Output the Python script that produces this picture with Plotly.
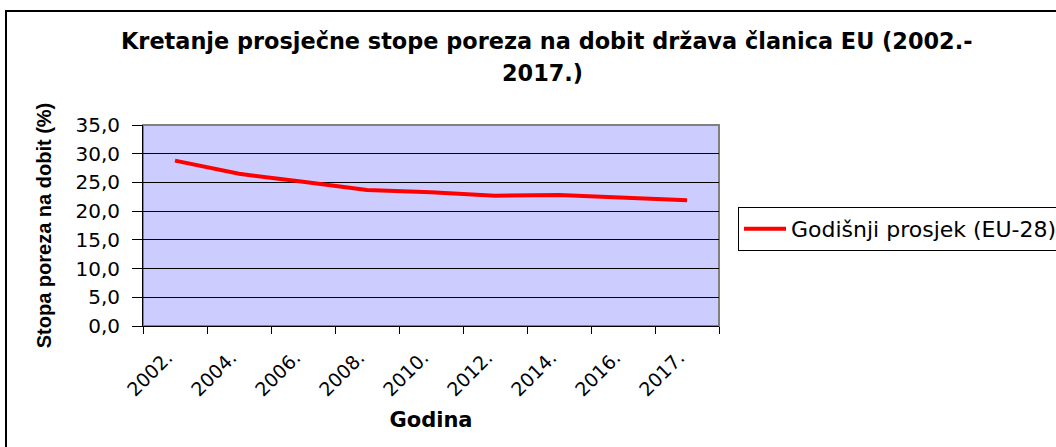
import plotly.graph_objects as go

years = ["2002.", "2004.", "2006.", "2008.", "2010.", "2012.", "2014.", "2016.", "2017."]
rate = [28.8, 26.5, 25.1, 23.7, 23.3, 22.7, 22.8, 22.3, 21.9]
series_name = "Godišnji prosjek (EU-28)"
title_line1 = "Kretanje prosječne stope poreza na dobit država članica EU (2002.-"
title_line2 = "2017.)"
y_title = "Stopa poreza na dobit (%)"
x_title = "Godina"

FONT = "DejaVu Sans, Liberation Sans, sans-serif"
FONT_ARIAL = "Liberation Sans, Arial, sans-serif"

fig = go.Figure()
fig.add_trace(go.Scatter(
    x=years, y=rate, mode="lines", name=series_name,
    line=dict(color="#FF0000", width=4),
))

W, H = 1056, 447
L, R, T, B = 143, 337, 125, 121
pw, ph = W - L - R, H - T - B

def px_to_paper_x(px):
    return (px - L) / pw

def px_to_paper_y(py):
    return (H - B - py) / ph

fig.update_layout(
    width=W, height=H,
    margin=dict(l=L, r=R, t=T, b=B, pad=0, autoexpand=False),
    paper_bgcolor="white",
    plot_bgcolor="#CCCCFF",
    font=dict(family=FONT, color="black", size=18),
    separators=",.",
    showlegend=True,
    legend=dict(
        x=px_to_paper_x(738), y=px_to_paper_y(207),
        xanchor="left", yanchor="top",
        bordercolor="black", borderwidth=1,
        bgcolor="white",
        font=dict(family=FONT, size=22),
        itemwidth=42,
        tracegroupgap=0,
    ),
    annotations=[
        dict(text="<b>" + title_line1 + "</b>", xref="paper", yref="paper",
             x=px_to_paper_x(546), y=px_to_paper_y(41), xanchor="center", yanchor="middle",
             showarrow=False, font=dict(family=FONT, size=22.4)),
        dict(text="<b>" + title_line2 + "</b>", xref="paper", yref="paper",
             x=px_to_paper_x(542), y=px_to_paper_y(73), xanchor="center", yanchor="middle",
             showarrow=False, font=dict(family=FONT, size=22.4)),
    ],
    shapes=[
        dict(type="rect", xref="paper", yref="paper",
             x0=px_to_paper_x(6), x1=px_to_paper_x(1070),
             y0=px_to_paper_y(460), y1=px_to_paper_y(11),
             line=dict(color="black", width=2), layer="above"),
        dict(type="rect", xref="paper", yref="paper", x0=0, x1=1, y0=0, y1=1,
             line=dict(color="#808080", width=2), layer="below"),
    ],
)

fig.update_xaxes(
    type="category",
    range=[-0.5, len(years) - 0.5],
    tickangle=-45,
    ticks="outside", ticklen=7, tickcolor="black", tickson="boundaries",
    ticklabelstandoff=12, ticklabelshift=-8,
    showline=True, linecolor="black", linewidth=1,
    showgrid=False,
    tickfont=dict(family=FONT, size=19),
    title=dict(text="<b>" + x_title + "</b>", font=dict(family=FONT, size=21), standoff=12),
)
fig.update_yaxes(
    range=[0, 35], dtick=5, tickformat=".1f",
    ticks="outside", ticklen=10, tickcolor="black",
    ticklabelstandoff=8,
    showline=True, linecolor="black", linewidth=1,
    showgrid=True, gridcolor="black", gridwidth=1,
    zeroline=False,
    tickfont=dict(family=FONT, size=20),
    title=dict(text="<b>" + y_title + "</b>", font=dict(family=FONT_ARIAL, size=20), standoff=18),
)

fig.write_html("out.html", config={"displayModeBar": False},
               post_script="document.body.style.margin='0px';")
